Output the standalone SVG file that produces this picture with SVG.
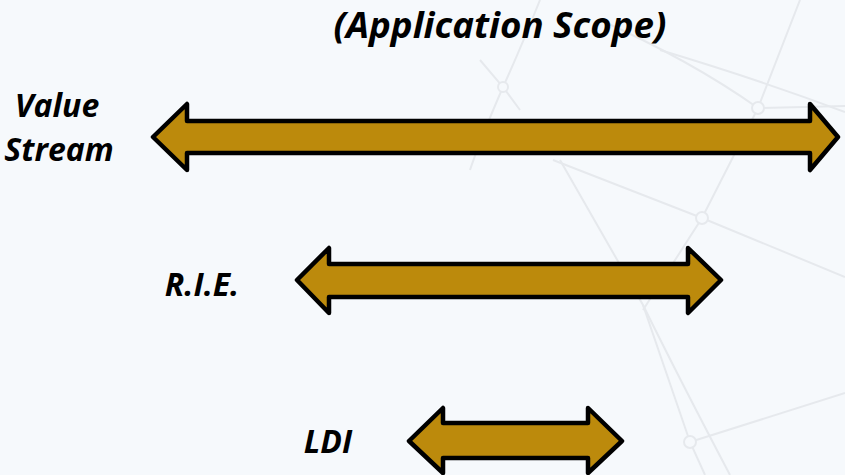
<svg xmlns="http://www.w3.org/2000/svg" width="845" height="475" viewBox="0 0 845 475">
<style>
.bg{fill:#F6F9FC}
.net{fill:none;stroke:#E6E9ED;stroke-width:2}
.nd{fill:#F6F9FC;stroke:#E6E9ED;stroke-width:2}
.arr{fill:#BC8A0C;stroke:#000;stroke-width:4.5;stroke-linejoin:round}
.t{font-family:"Open Sans","Liberation Sans",sans-serif;font-weight:bold;font-style:italic;fill:#000}
</style>
<rect class="bg" x="0" y="0" width="845" height="475"/>
<g id="background-network">
<path class="net" d="M540,0 Q520,50 503,87 Q480,140 470,170"/>
<path class="net" d="M800,0 L758,108 L702,218 L643,310"/>
<path class="net" d="M553,160 L702,218 L845,277"/>
<path class="net" d="M600,20 Q690,60 758,108 L845,106"/>
<path class="net" d="M660,50 Q760,80 845,112"/>
<path class="net" d="M560,160 L643,305 L690,442 L705,475"/>
<path class="net" d="M643,305 Q680,380 730,475"/>
<path class="net" d="M690,442 L845,393"/>
<path class="net" d="M480,60 L503,87 L520,110"/>
<circle class="nd" cx="758" cy="108" r="6"/>
<circle class="nd" cx="702" cy="218" r="6"/>
<circle class="nd" cx="503" cy="87" r="5"/>
<circle class="nd" cx="690" cy="442" r="6"/>
</g>
<g id="title"><text class="t" x="500" y="38" font-size="36" text-anchor="middle" textLength="333" lengthAdjust="spacingAndGlyphs">(Application Scope)</text></g>
<g id="value-stream">
<text class="t" x="57" y="117" font-size="32" text-anchor="middle">Value</text>
<text class="t" x="59" y="161" font-size="32" text-anchor="middle">Stream</text>
<polygon class="arr" points="153,137 187,104 187,121 810,121 810,104 838,137 810,170 810,153 187,153 187,170"/>
</g>
<g id="rie">
<text class="t" x="202" y="296" font-size="32" text-anchor="middle">R.I.E.</text>
<polygon class="arr" points="297,280 329,248 329,264 688,264 688,248 721,280 688,313 688,297 329,297 329,313"/>
</g>
<g id="ldi">
<text class="t" x="328" y="453" font-size="32" text-anchor="middle">LDI</text>
<polygon class="arr" points="409,441 443,408 443,423 588,423 588,408 622,441 588,473 588,458 443,458 443,473"/>
</g>
<g id="connectors"></g>
</svg>
